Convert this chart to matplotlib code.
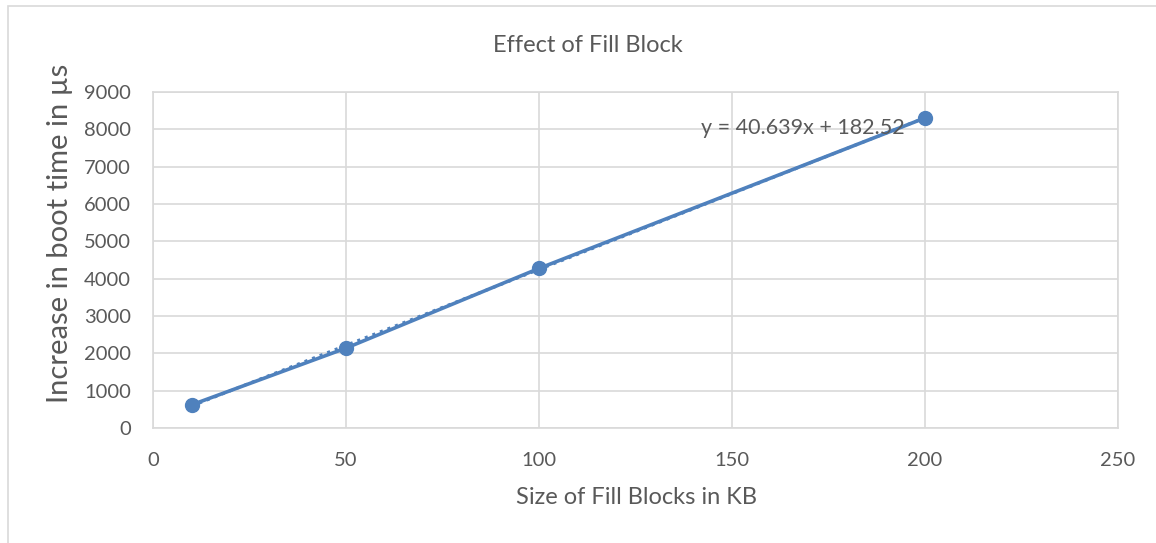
import matplotlib.pyplot as plt
import numpy as np
from matplotlib.patches import Rectangle

# data
block_kb = [10, 50, 100, 200]
boot_us = [620, 2140, 4275, 8305]
slope = 40.639
intercept = 182.52

x_ticks = [0, 50, 100, 150, 200, 250]
y_ticks = list(range(0, 9001, 1000))

blue = "#4f81bd"
grey = "#d9d9d9"
text_col = "#595959"

plt.rcParams["font.family"] = ["Lato", "DejaVu Sans"]

fig = plt.figure(figsize=(11.56, 5.43), dpi=100)
ax = fig.add_axes([153 / 1156, 1 - 428 / 543, 965 / 1156, 336 / 543])

# outer chart border (only left and top visible in the crop)
fig.patches.append(Rectangle((8 / 1156, -0.05), 1.1, 1 - 6 / 543 + 0.05,
                             transform=fig.transFigure, fill=False,
                             edgecolor=grey, lw=1.2))

ax.plot(block_kb, boot_us, color=blue, lw=2.6, marker="o", ms=10, zorder=3)
fit_x = np.array([block_kb[0], block_kb[-1]])
ax.plot(fit_x, slope * fit_x + intercept, color=blue, lw=2.2, ls=":", zorder=2)

ax.set_xlim(0, 250)
ax.set_ylim(0, 9000)
ax.set_xticks(x_ticks)
ax.set_yticks(y_ticks)
ax.grid(True, color=grey, lw=1.2)
ax.set_axisbelow(True)
for s in ax.spines.values():
    s.set_color(grey)
    s.set_linewidth(1.2)
ax.tick_params(length=0, labelsize=14.5, labelcolor=text_col)
ax.tick_params(axis="x", pad=17)
ax.tick_params(axis="y", pad=16)

ax.text(142, 8040, f"y = {slope}x + {intercept}", fontsize=15.5,
        color=text_col, va="center", ha="left")

fig.text(588 / 1156, 1 - 45 / 543, "Effect of Fill Block", fontsize=17,
         color=text_col, ha="center", va="center")
fig.text(636 / 1156, 1 - 497 / 543, "Size of Fill Blocks in KB", fontsize=17,
         color=text_col, ha="center", va="center")
fig.text(60 / 1156, 1 - 233 / 543, "Increase in boot time in µs", fontsize=21,
         color=text_col, ha="center", va="center", rotation=90)

fig.savefig("out.png", dpi=100)
